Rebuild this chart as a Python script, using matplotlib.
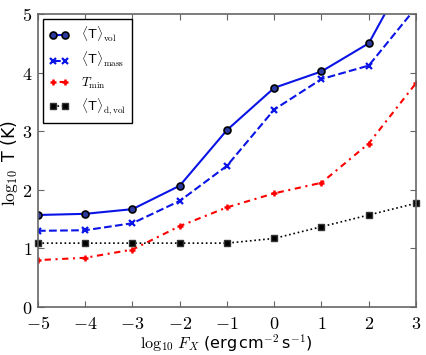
import matplotlib
matplotlib.use("Agg")
import matplotlib.pyplot as plt

plt.rcParams['mathtext.fontset'] = 'cm'
plt.rcParams['font.family'] = ['DejaVu Sans']

log_fx = [-5, -4, -3, -2, -1, 0, 1, 2, 3]
t_vol = [1.57, 1.59, 1.67, 2.07, 3.02, 3.74, 4.02, 4.50, 5.97]
t_mass = [1.30, 1.31, 1.43, 1.81, 2.41, 3.37, 3.89, 4.12, 5.11]
t_min = [0.80, 0.84, 0.98, 1.38, 1.70, 1.94, 2.12, 2.79, 3.82]
t_dvol = [1.09, 1.09, 1.09, 1.09, 1.09, 1.17, 1.37, 1.57, 1.77]

fig = plt.figure(figsize=(4.27, 3.55), dpi=100)
ax = fig.add_axes([38/427, 1 - 307/355, (416-38)/427, (307-14)/355])

ax.plot(log_fx, t_vol, '-', color='#0a14e6', lw=1.5, marker='o', ms=5,
        mfc='#2a3aa0', mec='black', mew=1.2, label=r'$\langle\mathsf{T}\rangle_{\rm vol}$')
ax.plot(log_fx, t_mass, '--', color='#0a14e6', lw=1.5, marker='x', ms=5,
        mec='#0a14e6', mew=1.6, label=r'$\langle\mathsf{T}\rangle_{\rm mass}$', clip_on=True)
ax.plot(log_fx, t_min, linestyle=(0, (1, 2.2, 3, 2.2)), color='red', lw=1.5, marker='+', ms=5,
        mew=1.8, label=r'$T_{\rm min}$')
ax.plot(log_fx, t_dvol, ':', color='black', lw=1.2, marker='s', ms=5,
        mfc='black', mec='#333333', mew=1.0, label=r'$\langle\mathsf{T}\rangle_{\rm d,vol}$', clip_on=False)

ax.set_xlim(-5, 3)
ax.set_ylim(0, 5)
ax.set_xticks(log_fx)
ax.set_xticklabels([r'$%d$' % v if v >= 0 else r'$-%d$' % (-v) for v in log_fx])
ax.set_yticks([0, 1, 2, 3, 4, 5])
ax.set_yticklabels([r'$%d$' % v for v in [0, 1, 2, 3, 4, 5]])
ax.tick_params(direction='in', top=True, right=True, labelsize=13, color='#666666', length=4)
ax.tick_params(axis='x', pad=5.5)
ax.tick_params(axis='y', pad=4)
for s in ax.spines.values():
    s.set_color('#666666')
    s.set_linewidth(1.2)

fig.text(226/427, 1 - 343/355, r'$\log_{10}\, F_X$ (erg$\,$cm$^{-2}\,$s$^{-1}$)',
         fontsize=11.5, ha='center', va='center')
fig.text(10/427, 1 - 163/355, r'$\log_{10}$ T (K)', fontsize=12.5,
         rotation=90, ha='center', va='center')

leg = ax.legend(loc='upper left', numpoints=2, fontsize=9.5, fancybox=False,
                framealpha=1, edgecolor='black', handlelength=1.5, borderpad=0.45,
                labelspacing=0.45, borderaxespad=0.4, handletextpad=0.9)
leg.get_frame().set_linewidth(1.0)

fig.savefig('out.png', dpi=100)
